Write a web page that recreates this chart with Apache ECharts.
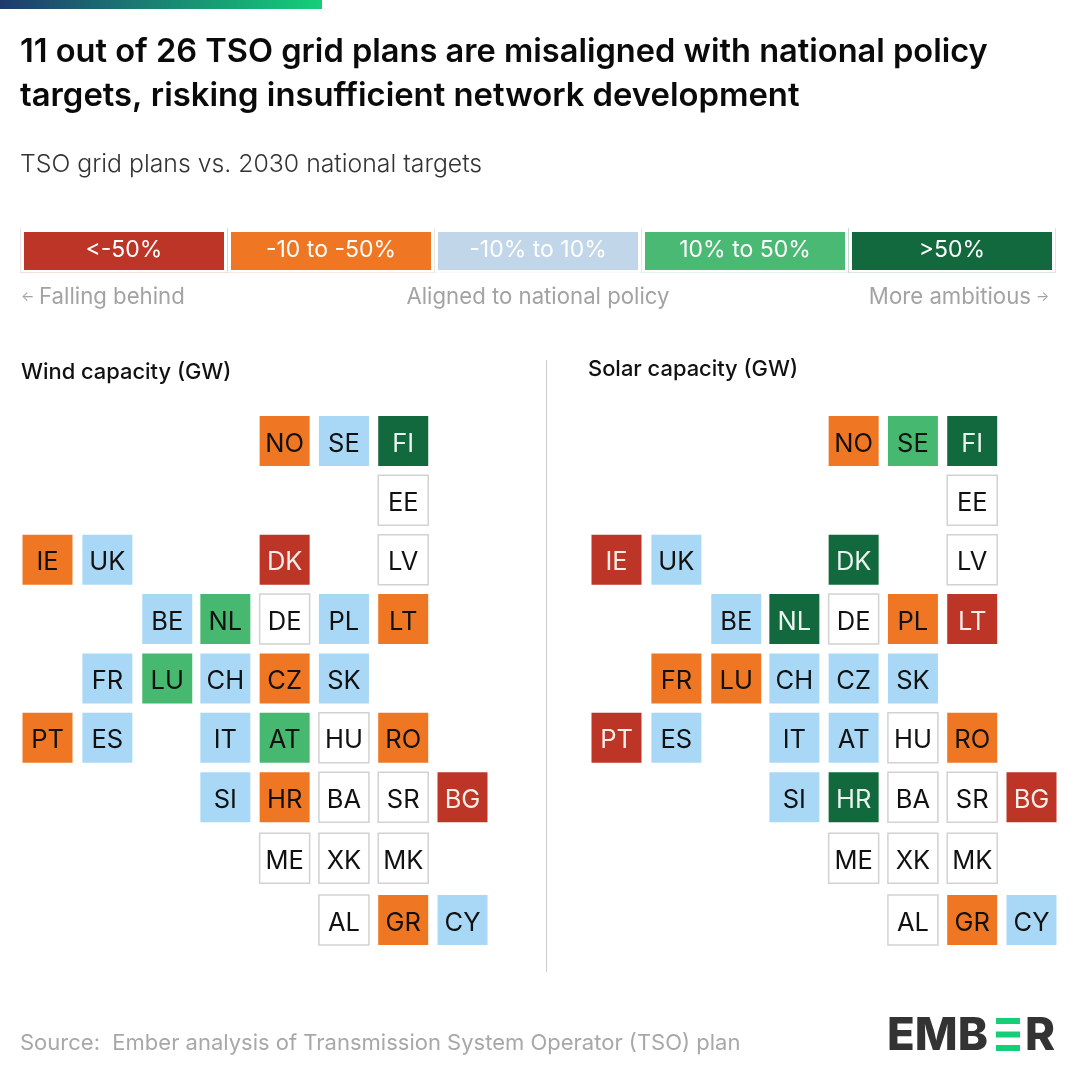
<!DOCTYPE html>
<html><head><meta charset="utf-8">
<style>html,body{margin:0;padding:0;background:#fff}#c{width:1080px;height:1080px}</style>
<script src="https://cdn.jsdelivr.net/npm/echarts@6/dist/echarts.min.js"></script>
</head><body><div id="c"></div>
<script>
const countries = ['NO','SE','FI','EE','IE','UK','DK','LV','BE','NL','DE','PL','LT','FR','LU','CH','CZ','SK','PT','ES','IT','AT','HU','RO','SI','HR','BA','SR','BG','ME','XK','MK','AL','GR','CY'];
const tileCols = [4,5,6,6,0,1,4,6,2,3,4,5,6,1,2,3,4,5,0,1,3,4,5,6,3,4,5,6,7,4,5,6,5,6,7];
const tileRows = [0,0,0,1,2,2,2,2,3,3,3,3,3,4,4,4,4,4,5,5,5,5,5,5,6,6,6,6,6,7,7,7,8,8,8];
const windStatus  = ['o','b','d','n','o','b','r','n','b','g','n','b','o','b','g','b','o','b','o','b','b','g','n','o','b','o','n','n','r','n','n','n','n','o','b'];
const solarStatus = ['o','g','d','n','r','b','d','n','b','d','n','o','r','o','o','b','b','b','r','b','b','b','n','o','b','d','n','n','r','n','n','n','n','o','b'];
const legendLabels = ['<-50%','-10 to -50%','-10% to 10%','10% to 50%','>50%'];
const titleLines = ['11 out of 26 TSO grid plans are misaligned with national policy','targets, risking insufficient network development'];

const FONT = 'Inter';
const fills = {r:'#BD3526',o:'#EF7622',b:'#A8D8F6',g:'#47B870',d:'#12693D',n:'#FFFFFF'};
const inks  = {r:'#FBEDE9',o:'#111111',b:'#111111',g:'#111111',d:'#EAF3EE',n:'#111111'};
const legendFills = ['#BD3526','#EF7622','#C1D7E9','#4AB973','#12693D'];
const rowStops = [0,1,2,3,4,5,6,7.03,8.07];
const colStops = [0,1.01,2.02,3,4,5,6,7];

function tiles(status, idx){
  return {
    type:'scatter', xAxisIndex:idx, yAxisIndex:idx, symbol:'rect', symbolSize:50, silent:true,
    data: countries.map((c,i)=>({
      value:[colStops[tileCols[i]], rowStops[tileRows[i]], c],
      itemStyle:{color:fills[status[i]], borderColor:status[i]==='n'?'#D2D2D2':fills[status[i]], borderWidth:status[i]==='n'?1.5:0, opacity:1},
      label:{show:true, position:'inside', formatter:c, color:inks[status[i]], fontFamily:FONT, fontSize:25.5, fontWeight:400, offset:[0,3]}
    }))
  };
}
const txt=(x,y,t,size,color,weight,align)=>({type:'text',x,y,silent:true,style:{text:t,fontFamily:FONT,fontSize:size,fill:color,fontWeight:weight||400,align:align||'left',verticalAlign:'middle'}});
const rect=(x,y,w,h,fill,extra)=>({type:'rect',x,y,silent:true,shape:{x:0,y:0,width:w,height:h},style:Object.assign({fill},extra||{})});

const graphics = [];
graphics.push(rect(0,0,322,9,{type:'linear',x:0,y:0,x2:1,y2:0,colorStops:[{offset:0,color:'#1F3A6E'},{offset:1,color:'#14CF78'}]}));
titleLines.forEach((t,i)=>graphics.push(txt(20,52+i*44,t,i?32.8:32.6,'#0A0A0A',600)));
graphics.push(txt(20,165,'TSO grid plans vs. 2030 national targets',24.8,'#333333',300));
const lx=[24,231,438,645,852];
legendLabels.forEach((l,i)=>{
  graphics.push({type:'polyline',silent:true,shape:{points:[[lx[i]-3.5,228],[lx[i]-3.5,272.5],[lx[i]+203.5,272.5],[lx[i]+203.5,228]]},style:{fill:'none',stroke:legendFills[i],opacity:.16,lineWidth:1}});
  graphics.push(rect(lx[i],232,200,38,legendFills[i]));
  graphics.push(txt(lx[i]+100,250,l,23,'#FFFFFF',400,'center'));
});
graphics.push(txt(21,297,'←',14,'#A3A3A3',400));
graphics.push(txt(39,297,'Falling behind',22.2,'#A3A3A3',400));
graphics.push(txt(538,297,'Aligned to national policy',22.2,'#A3A3A3',400,'center'));
graphics.push(txt(1031,297,'More ambitious',22.2,'#A3A3A3',400,'right'));
graphics.push(txt(1036,297,'→',14,'#A3A3A3',400));
graphics.push(txt(21,372,'Wind capacity (GW)',21.9,'#111111',500));
graphics.push(txt(588,369.5,'Solar capacity (GW)',21.9,'#111111',500));
graphics.push(rect(546,360,1,612,'#CCCCCC'));
graphics.push(txt(20,1043,'Source:  Ember analysis of Transmission System Operator (TSO) plan',22,'#A8A8A8',400));
// logo
graphics.push(txt(887,1036,'EMB',45.5,'#333333',800));
[1018,1031.5,1045].forEach(y=>graphics.push(rect(996,y,24,6,'#14CF78')));
graphics.push(txt(1025,1036,'R',45.5,'#333333',800));

const xAx=(g)=>({type:'value',gridIndex:g,min:0,max:7,show:false});
const yAx=(g)=>({type:'value',gridIndex:g,min:0,max:8.07,inverse:true,show:false});
const chart = echarts.init(document.getElementById('c'),null,{renderer:'canvas'});
chart.setOption({
  animation:false, backgroundColor:'#fff',
  grid:[{left:47.5,width:415,top:441,height:479},{left:616.5,width:415,top:441,height:479}],
  xAxis:[xAx(0),xAx(1)], yAxis:[yAx(0),yAx(1)],
  series:[tiles(windStatus,0),tiles(solarStatus,1)],
  graphic:graphics
});
</script></body></html>
